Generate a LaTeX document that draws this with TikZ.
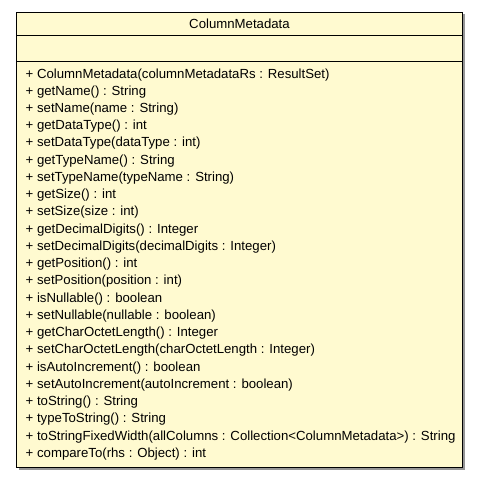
\documentclass[tikz,border=0pt]{standalone}
\usepackage{fontspec}
\setmainfont{Liberation Sans}
\definecolor{umlfill}{RGB}{255,250,208}
\definecolor{umlshadow}{RGB}{150,150,150}
\begin{document}
\begin{tikzpicture}[x=1pt,y=-1pt,
  member/.style={anchor=base west,inner sep=0pt,font=\fontsize{13.2}{15}\selectfont},
  title/.style={anchor=base,inner sep=0pt,font=\fontsize{13.2}{15}\selectfont}]
\useasboundingbox (0,0) rectangle (479,479);
\fill[umlshadow] (18.5,14) rectangle (464.5,469.5);
\draw[fill=umlfill,line width=1pt] (16.5,12) rectangle (462.5,467.5);
\draw[line width=1pt] (16.5,35) -- (462.5,35);
\draw[line width=1pt] (16.5,61.5) -- (462.5,61.5);
\node[title] (t) at (239.5,28.3) {ColumnMetadata};
\foreach \i/\s in {
0/{+ ColumnMetadata(columnMetadataRs : ResultSet)},
1/{+ getName() : String},
2/{+ setName(name : String)},
3/{+ getDataType() : int},
4/{+ setDataType(dataType : int)},
5/{+ getTypeName() : String},
6/{+ setTypeName(typeName : String)},
7/{+ getSize() : int},
8/{+ setSize(size : int)},
9/{+ getDecimalDigits() : Integer},
10/{+ setDecimalDigits(decimalDigits : Integer)},
11/{+ getPosition() : int},
12/{+ setPosition(position : int)},
13/{+ isNullable() : boolean},
14/{+ setNullable(nullable : boolean)},
15/{+ getCharOctetLength() : Integer},
16/{+ setCharOctetLength(charOctetLength : Integer)},
17/{+ isAutoIncrement() : boolean},
18/{+ setAutoIncrement(autoIncrement : boolean)},
19/{+ toString() : String},
20/{+ typeToString() : String},
21/{+ toStringFixedWidth(allColumns : Collection<ColumnMetadata>) : String},
22/{+ compareTo(rhs : Object) : int}}
{\node[member] (m\i) at (25.5,78+17.24*\i) {\s};}
\end{tikzpicture}
\end{document}
